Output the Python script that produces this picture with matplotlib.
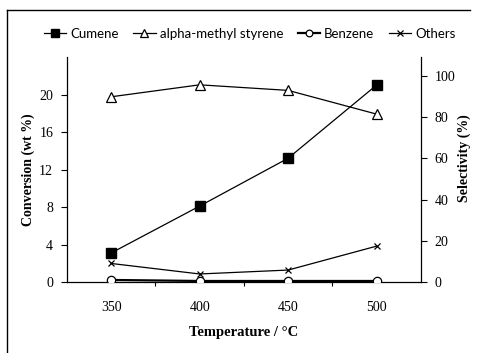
import matplotlib
matplotlib.use("Agg")
import matplotlib.pyplot as plt
from matplotlib.lines import Line2D
import numpy as np

temperatures = ["350", "400", "450", "500"]
cumene_conversion = [3.1, 8.1, 13.2, 21.0]          # wt %
ams_selectivity = [89.9, 95.7, 93.0, 81.5]          # %
benzene_selectivity = [1.0, 0.5, 0.5, 0.5]          # %
others_selectivity = [9.0, 3.9, 5.8, 17.4]          # %

conv_ticks = [0, 4, 8, 12, 16, 20]
sel_ticks = [0, 20, 40, 60, 80, 100]

serif = "Liberation Serif"
sans = "Lato"

fig = plt.figure(figsize=(4.8, 3.53), dpi=100)
ax = fig.add_axes([0.1396, 0.2011, 0.7369, 0.6374])
ax2 = ax.twinx()

x = np.arange(len(temperatures))
lw = 0.9

l1, = ax.plot(x, cumene_conversion, color="black", lw=lw, marker="s",
              ms=7, mfc="black", mec="black", zorder=5)
l2, = ax2.plot(x, ams_selectivity, color="black", lw=lw, marker="^",
               ms=7.5, mfc="white", mec="black", mew=0.9)
l3, = ax2.plot(x, benzene_selectivity, color="black", lw=1.6, marker="o",
               ms=6, mfc="white", mec="black", mew=0.9)
l4, = ax2.plot(x, others_selectivity, color="black", lw=lw, marker="x",
               ms=5, mec="black", mew=0.9)

ax.set_xlim(-0.5, len(temperatures) - 0.5)
ax.set_ylim(0, 24)
ax2.set_ylim(0, 109.2)

ax.set_yticks(conv_ticks)
ax.set_yticklabels([str(t) for t in conv_ticks], family=serif, fontsize=10)
ax2.set_yticks(sel_ticks)
ax2.set_yticklabels([str(t) for t in sel_ticks], family=serif, fontsize=10)

# category ticks sit between the temperature groups, labels at their centres
ax.set_xticks(np.arange(0.5, len(temperatures) - 0.5), minor=False)
ax.set_xticklabels([])
ax.set_xticks(x, minor=True)
ax.set_xticklabels(temperatures, minor=True, family=serif, fontsize=10)
ax.tick_params(axis="x", which="major", length=3, width=0.8, direction="out")
ax.tick_params(axis="x", which="minor", length=0, pad=14)
ax.tick_params(axis="y", length=4, width=0.8, pad=6)
ax2.tick_params(axis="y", length=4, width=0.8, pad=6)

for a in (ax, ax2):
    a.spines["top"].set_visible(False)
    for s in ("left", "right", "bottom"):
        a.spines[s].set_linewidth(0.9)
ax.spines["right"].set_visible(False)
ax2.spines["left"].set_visible(False)
ax2.spines["bottom"].set_visible(False)

ax.set_ylabel("Conversion (wt %)", family=serif, fontweight="bold",
              fontsize=10)
ax.yaxis.set_label_coords(-0.09, 0.5)
ax2.set_ylabel("Selectivity (%)", family=serif, fontweight="bold",
               fontsize=10, rotation=90)
ax2.yaxis.set_label_coords(1.105, 0.55)
ax.set_xlabel("Temperature / °C", family=serif, fontweight="bold",
              fontsize=10.5, labelpad=8)

fig.legend([l1, l2, l3, l4],
           ["Cumene", "alpha-methyl styrene", "Benzene", "Others"],
           loc="center", bbox_to_anchor=(0.52, 0.905), ncol=4, frameon=False,
           prop={"family": sans, "size": 9.5}, handlelength=1.7,
           handletextpad=0.3, columnspacing=1.1, markerscale=0.8)

# outer chart border (left and top edges)
fig.add_artist(Line2D([0.014, 0.014], [0.0, 0.972], color="black", lw=1.0,
                      transform=fig.transFigure))
fig.add_artist(Line2D([0.014, 0.98], [0.972, 0.972], color="black", lw=1.0,
                      transform=fig.transFigure))

fig.savefig("out.png", dpi=100)
